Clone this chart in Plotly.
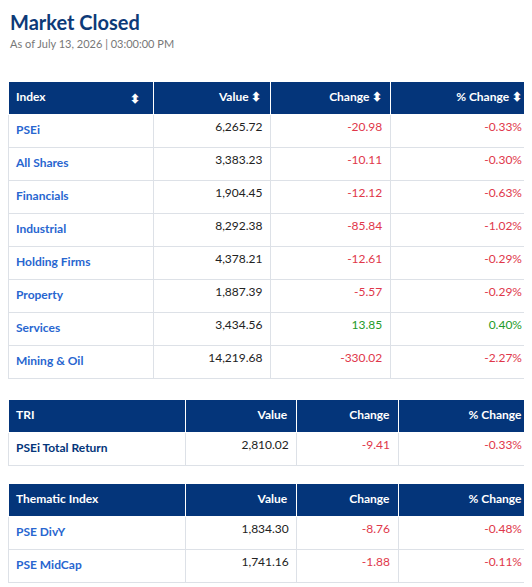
import plotly.graph_objects as go

# Main index table
index_names = ["PSEi", "All Shares", "Financials", "Industrial", "Holding Firms",
               "Property", "Services", "Mining & Oil"]
index_values = ["6,265.72", "3,383.23", "1,904.45", "8,292.38", "4,378.21",
                "1,887.39", "3,434.56", "14,219.68"]
index_change = [-20.98, -10.11, -12.12, -85.84, -12.61, -5.57, 13.85, -330.02]
index_pct = [-0.33, -0.30, -0.63, -1.02, -0.29, -0.29, 0.40, -2.27]

# TRI table
tri_names = ["PSEi Total Return"]
tri_values = ["2,810.02"]
tri_change = [-9.41]
tri_pct = [-0.33]

# Thematic table
them_names = ["PSE DivY", "PSE MidCap"]
them_values = ["1,834.30", "1,741.16"]
them_change = [-8.76, -1.88]
them_pct = [-0.48, -0.11]

# page body has an 8px margin, so the figure is drawn 8px in from the corner
OFF = 8
W, H = 532 - OFF, 587 - OFF
NAVY = "#04357a"
LINK = "#2866d0"
RED = "#e0374a"
GREEN = "#1e9a28"
BORDER = "#dde1e7"
FONT = "Lato"


def colr(v):
    return GREEN if v > 0 else RED


def px(x):
    return min(1, max(0, (x - OFF) / W))


def py(y):
    return min(1, max(0, 1 - (y - OFF) / H))


def make_table(headers, names, values, change, pct, x0, x1, top, widths, name_color):
    rows = len(names)
    bottom = top + 33 * (rows + 1) + 6
    return go.Table(
        domain=dict(x=[px(x0), px(x1)], y=[py(bottom), py(top)]),
        columnwidth=widths,
        header=dict(
            values=[f"<b>{h}</b>" for h in headers],
            fill_color=NAVY, line_color="white", line_width=1,
            font=dict(family=FONT, size=12, color="white"),
            align=["left", "right", "right", "right"], height=33,
        ),
        cells=dict(
            values=[[f"<b>{n}</b>" for n in names], values,
                    [f"{c:.2f}" for c in change], [f"{p:.2f}%" for p in pct]],
            fill_color="white", line_color=BORDER, line_width=1,
            font=dict(family=FONT, size=12,
                      color=[[name_color] * rows, ["#222"] * rows,
                             [colr(c) for c in change], [colr(c) for c in change]]),
            align=["left", "right", "right", "right"], height=33,
        ),
    )


fig = go.Figure()
arrow = "&nbsp;⬍"
fig.add_trace(make_table(["Index", "Value" + arrow, "Change" + arrow, "% Change" + arrow],
                         index_names, index_values, index_change, index_pct,
                         3, 530, 81, [146, 117, 120, 140], LINK))
fig.add_trace(make_table(["TRI", "Value", "Change", "% Change"],
                         tri_names, tri_values, tri_change, tri_pct,
                         3, 530, 399, [179, 112, 102, 133], NAVY))
fig.add_trace(make_table(["Thematic Index", "Value", "Change", "% Change"],
                         them_names, them_values, them_change, them_pct,
                         3, 530, 483, [179, 112, 102, 133], LINK))

fig.add_annotation(text="<b>⬍</b>", x=(142 - OFF) / W, y=py(98), xref="paper", yref="paper",
                   xanchor="right", yanchor="middle", showarrow=False,
                   font=dict(family=FONT, size=12, color="white"))
fig.add_annotation(text="<b>Market Closed</b>", x=0, y=1, xref="paper", yref="paper",
                   xanchor="left", yanchor="top", showarrow=False,
                   font=dict(family=FONT, size=20, color="#0d3a78"))
fig.add_annotation(text="As of July 13, 2026 | 03:00:00 PM", x=0, y=py(43),
                   xref="paper", yref="paper", xanchor="left", yanchor="middle", showarrow=False,
                   font=dict(family=FONT, size=11, color="#777"))

fig.update_layout(width=W, height=H, margin=dict(l=0, r=0, t=0, b=0),
                  paper_bgcolor="white", plot_bgcolor="white")
fig.write_html("out.html")
